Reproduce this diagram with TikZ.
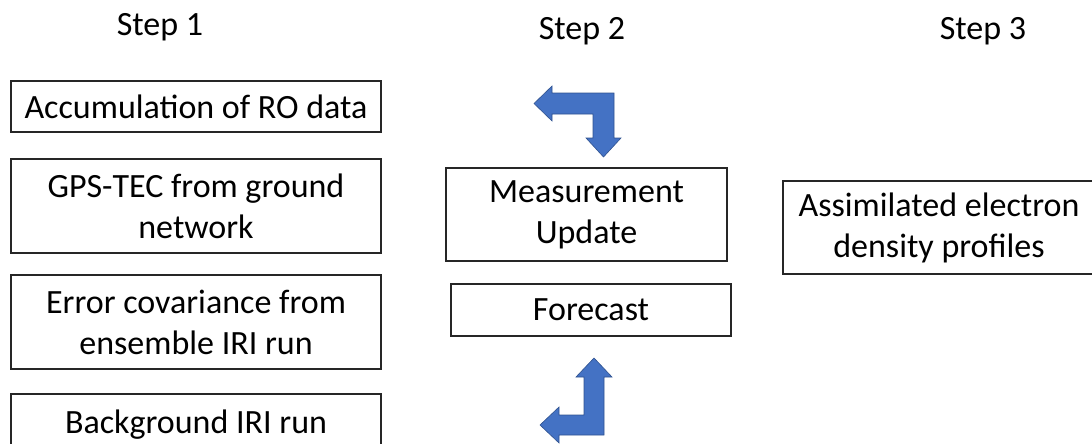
\documentclass[tikz,border=0pt]{standalone}
\usepackage{fontspec}
\setmainfont{Carlito}
\begin{document}
\begin{tikzpicture}[x=1pt,y=-1pt,
  box/.style={draw=black!85, line width=1.3pt, inner sep=0pt, align=center,
    font=\fontsize{34}{41}\selectfont, text=black},
  lbl/.style={inner sep=0pt, anchor=base, font=\fontsize{34}{41}\selectfont},
  blockarrow/.style={fill={rgb,255:red,68;green,114;blue,196}, draw={rgb,255:red,47;green,82;blue,143}, line width=0.6pt, line join=miter}]
\useasboundingbox (0,0) rectangle (1092,444);
\begin{scope}
\clip (0,0) rectangle (1092,444);
% step labels
\node[lbl] (s1) at (160,36) {Step 1};
\node[lbl] (s2) at (582,40) {Step 2};
\node[lbl] (s3) at (983,40) {Step 3};
% step 1 boxes
\node[box, minimum width=370pt, minimum height=51pt] (ro) at (196,106.5) {Accumulation of RO data};
\node[box, minimum width=370pt, minimum height=94pt] (gps) at (196,206) {GPS-TEC from ground\\network};
\node[box, minimum width=370pt, minimum height=94pt] (err) at (196,322) {Error covariance from\\ensemble IRI run};
\node[box, minimum width=370pt, minimum height=62pt] (bg) at (196,425) {Background IRI run};
% step 2 boxes
\node[box, minimum width=281pt, minimum height=93pt] (meas) at (586.5,214.5) {Measurement\\Update};
\node[box, minimum width=280pt, minimum height=52pt] (fc) at (591,310) {Forecast};
% step 3 box
\node[box, minimum width=312pt, minimum height=93pt] (asm) at (939,227.5) {Assimilated electron\\density profiles};
% block arrows
\draw[blockarrow] (534,103.5) -- (552,86) -- (552,93) -- (614,93) -- (614,138) -- (621,138)
  -- (603.5,157) -- (586,138) -- (593,138) -- (593,114) -- (552,114) -- (552,121) -- cycle;
\draw[blockarrow] (594,358) -- (612,377) -- (604,377) -- (604,435) -- (559,435) -- (559,443)
  -- (540,425) -- (559,407) -- (559,415) -- (584,415) -- (584,377) -- (576,377) -- cycle;
\end{scope}
\end{tikzpicture}
\end{document}
